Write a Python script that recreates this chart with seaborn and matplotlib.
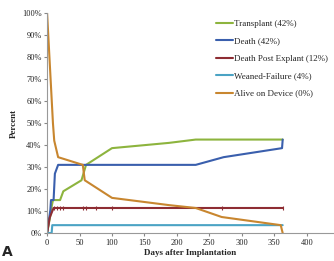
import pandas as pd
import matplotlib
matplotlib.use("Agg")
import matplotlib.pyplot as plt
import seaborn as sns

# curves (days, percent)
transplant_days = [0, 5, 7, 9, 20, 25, 53, 60, 100, 188, 229, 363]
transplant_pct = [0, 8, 12, 15, 15, 19, 24, 31, 38.6, 41, 42.5, 42.5]

death_days = [0, 5, 6, 10, 12, 17, 229, 272, 362, 363]
death_pct = [0, 10.5, 15, 15, 27, 31, 31, 34.5, 38.6, 42.5]

dpe_days = [0, 4, 10, 15, 20, 25, 55, 60, 75, 100, 270, 363]
dpe_pct = [0, 7, 11.4, 11.4, 11.4, 11.4, 11.4, 11.4, 11.4, 11.4, 11.4, 11.4]

weaned_days = [0, 7, 8, 363]
weaned_pct = [0, 0, 3.6, 3.6]

alive_days = [0, 9, 11, 17, 55, 58, 100, 188, 229, 269, 360, 363]
alive_pct = [100, 50, 42, 34.5, 31, 24, 16, 12.7, 11.4, 7.3, 3.6, 0]

labels = ["Transplant (42%)", "Death (42%)", "Death Post Explant (12%)",
          "Weaned-Failure (4%)", "Alive on Device (0%)"]
colors = ["#8DB43E", "#3A5FAD", "#8E2D33", "#4BA3C4", "#C8862F"]

series = [(transplant_days, transplant_pct), (death_days, death_pct),
          (dpe_days, dpe_pct), (weaned_days, weaned_pct),
          (alive_days, alive_pct)]
frames = []
for lab, (d, p) in zip(labels, series):
    frames.append(pd.DataFrame({"Days": d, "Percent": p, "Group": lab}))
df = pd.concat(frames, ignore_index=True)

sns.set_style("white")
plt.rcParams["font.family"] = ["Liberation Serif", "DejaVu Serif"]

fig = plt.figure(figsize=(3.34, 2.61), dpi=100)
ax = fig.add_axes([0.141, 0.107, 0.855, 0.843])

sns.lineplot(data=df, x="Days", y="Percent", hue="Group", hue_order=labels,
             palette=colors, sort=False, estimator=None, linewidth=1.5, ax=ax)
# censor marks on the death post explant line
ax.plot(dpe_days[2:], dpe_pct[2:], linestyle="none", marker="|",
        color=colors[2], markersize=3, markeredgewidth=0.8)

ax.set_xlim(0, 440)
ax.set_ylim(0, 100)
ax.set_xticks(range(0, 401, 50))
ax.set_yticks(range(0, 101, 10))
ax.set_yticklabels([f"{v}%" for v in range(0, 101, 10)])
ax.tick_params(axis="both", labelsize=6, length=2, color="#888888",
               direction="out", pad=2, colors="#222222")
ax.tick_params(axis="both", which="both", bottom=True, left=True)
for s in ["top", "right"]:
    ax.spines[s].set_visible(False)
for s in ["left", "bottom"]:
    ax.spines[s].set_color("#999999")
    ax.spines[s].set_linewidth(0.8)

ax.set_xlabel("Days after Implantation", fontsize=6.5, fontweight="bold",
              labelpad=2)
ax.set_ylabel("Percent", fontsize=6.5, fontweight="bold", labelpad=3)

leg = ax.legend(loc="upper left", bbox_to_anchor=(0.58, 0.985), frameon=False,
                fontsize=6.5, handlelength=1.9, handletextpad=0.1,
                labelspacing=1.0, borderaxespad=0)
for line in leg.get_lines():
    line.set_linewidth(1.5)

fig.text(0.006, 0.02, "A", fontsize=10, fontweight="bold",
         family="DejaVu Sans")

fig.savefig("out.png", dpi=100)
